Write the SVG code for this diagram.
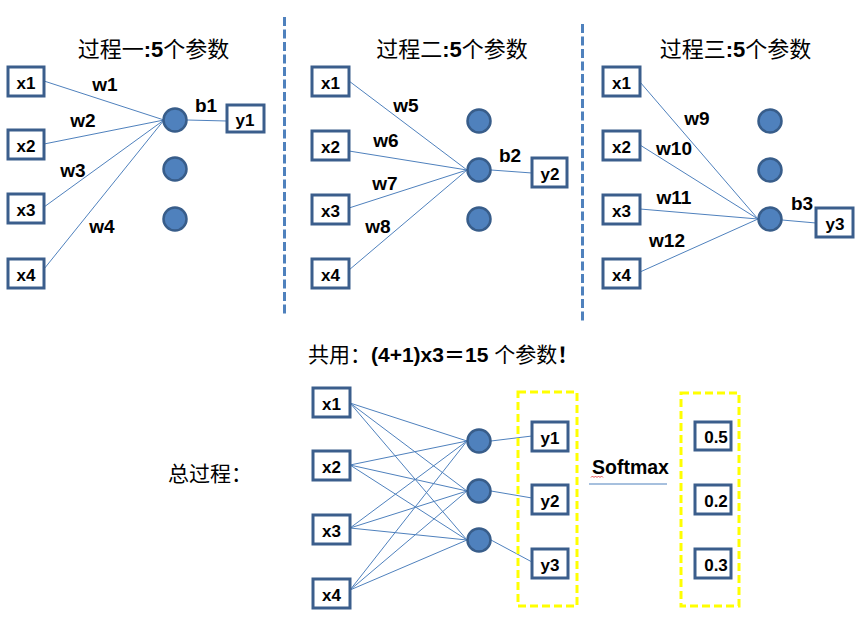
<svg xmlns="http://www.w3.org/2000/svg" width="867" height="622" viewBox="0 0 867 622">
<style>
.box{fill:#fff;stroke:#3B5E8C;stroke-width:3}
.neu{fill:#4F81BD;stroke:#385D8A;stroke-width:2.5}
.bt{font-family:"Liberation Sans","Noto Sans CJK SC",sans-serif;font-weight:bold;font-size:17px;fill:#000;text-anchor:middle}
.wl{font-family:"Liberation Sans","Noto Sans CJK SC",sans-serif;font-weight:bold;font-size:19px;fill:#000;text-anchor:middle}
.ti{font-family:"Liberation Sans","Noto Sans CJK SC",sans-serif;font-size:22px;fill:#000}
.b{font-weight:bold}
.con line{stroke:#4F81BD;stroke-width:1}
.sep{stroke:#4F81BD;stroke-width:3;stroke-dasharray:9 3.5}
.ybox{fill:none;stroke:#FFFF00;stroke-width:3;stroke-dasharray:8 4}
</style>
<rect width="867" height="622" fill="#fff"/>
<line class="sep" x1="284.5" y1="17" x2="284.5" y2="315"/>
<line class="sep" x1="582.5" y1="24" x2="582.5" y2="322"/>
<g id="titles">
<text class="ti" x="153.5" y="57" text-anchor="middle">过程一<tspan class="b">:5</tspan>个参数</text>
<text class="ti" x="452" y="57" text-anchor="middle">过程二<tspan class="b">:5</tspan>个参数</text>
<text class="ti" x="735.5" y="57" text-anchor="middle">过程三<tspan class="b">:5</tspan>个参数</text>
<text class="ti" x="308" y="362" style="font-size:21px">共用：<tspan class="b">(4+1)x3＝15</tspan> 个参数<tspan class="b">！</tspan></text>
<text class="ti" x="168" y="481" style="font-size:21px">总过程：</text>
</g>
<g class="con" id="connectors">
<line x1="44" y1="81" x2="164" y2="120"/>
<line x1="44" y1="144" x2="164" y2="120"/>
<line x1="44" y1="207" x2="164" y2="120"/>
<line x1="44" y1="269" x2="164" y2="120"/>
<line x1="187" y1="120" x2="227" y2="121"/>
<line x1="349" y1="81" x2="467" y2="170"/>
<line x1="349" y1="151" x2="467" y2="170"/>
<line x1="349" y1="208" x2="467" y2="170"/>
<line x1="349" y1="270" x2="467" y2="170"/>
<line x1="491" y1="170" x2="532" y2="173"/>
<line x1="640" y1="82" x2="758" y2="219"/>
<line x1="640" y1="145" x2="758" y2="219"/>
<line x1="640" y1="209" x2="758" y2="219"/>
<line x1="640" y1="272" x2="758" y2="219"/>
<line x1="782" y1="220" x2="816" y2="223"/>
<line x1="350" y1="403" x2="467" y2="441"/>
<line x1="350" y1="403" x2="467" y2="491"/>
<line x1="350" y1="403" x2="467" y2="540"/>
<line x1="350" y1="465" x2="467" y2="441"/>
<line x1="350" y1="465" x2="467" y2="491"/>
<line x1="350" y1="465" x2="467" y2="540"/>
<line x1="350" y1="528" x2="467" y2="441"/>
<line x1="350" y1="528" x2="467" y2="491"/>
<line x1="350" y1="528" x2="467" y2="540"/>
<line x1="350" y1="590" x2="467" y2="441"/>
<line x1="350" y1="590" x2="467" y2="491"/>
<line x1="350" y1="590" x2="467" y2="540"/>
<line x1="491" y1="441" x2="532" y2="436"/>
<line x1="491" y1="491" x2="532" y2="498"/>
<line x1="491" y1="540" x2="532" y2="562"/>
<line x1="589" y1="484" x2="667" y2="484"/>
</g>
<g id="labels">
<text class="wl" x="105" y="91">w1</text>
<text class="wl" x="83" y="127">w2</text>
<text class="wl" x="73" y="177">w3</text>
<text class="wl" x="102" y="233">w4</text>
<text class="wl" x="206" y="112">b1</text>
<text class="wl" x="406" y="112">w5</text>
<text class="wl" x="386" y="147">w6</text>
<text class="wl" x="385" y="190">w7</text>
<text class="wl" x="378" y="233">w8</text>
<text class="wl" x="510" y="162">b2</text>
<text class="wl" x="697" y="125">w9</text>
<text class="wl" x="674" y="155">w10</text>
<text class="wl" x="674" y="204">w11</text>
<text class="wl" x="667" y="247">w12</text>
<text class="wl" x="802" y="210">b3</text>
<text x="592" y="474" style="font-family:'Liberation Sans',sans-serif;font-weight:bold;font-size:19.5px;fill:#000">Softmax</text>
<path d="M591,477.5 l1.5,-1.5 l1.5,1.5 l1.5,-1.5 l1.5,1.5 l1.5,-1.5 l1.5,1.5 l1.5,-1.5 l1.5,1.5" fill="none" stroke="#E02020" stroke-width="0.8"/>
</g>
<g id="p1-nodes">
<g id="p1-x1"><rect class="box" x="8" y="67" width="36" height="29"/><text class="bt" x="26" y="89">x1</text></g>
<g id="p1-x2"><rect class="box" x="8" y="130" width="36" height="29"/><text class="bt" x="26" y="152">x2</text></g>
<g id="p1-x3"><rect class="box" x="8" y="194" width="36" height="29"/><text class="bt" x="26" y="216">x3</text></g>
<g id="p1-x4"><rect class="box" x="8" y="259" width="36" height="29"/><text class="bt" x="26" y="281">x4</text></g>
<circle id="p1-n1" class="neu" cx="175" cy="120" r="11.5"/>
<circle id="p1-n2" class="neu" cx="175" cy="169" r="11.5"/>
<circle id="p1-n3" class="neu" cx="175" cy="219" r="11.5"/>
<g id="p1-y1"><rect class="box" x="227" y="105" width="37" height="27"/><text class="bt" x="245" y="126">y1</text></g>
</g>
<g id="p2-nodes">
<g id="p2-x1"><rect class="box" x="312" y="67" width="37" height="29"/><text class="bt" x="330.5" y="89">x1</text></g>
<g id="p2-x2"><rect class="box" x="312" y="131" width="37" height="29"/><text class="bt" x="330.5" y="153">x2</text></g>
<g id="p2-x3"><rect class="box" x="312" y="195" width="37" height="29"/><text class="bt" x="330.5" y="217">x3</text></g>
<g id="p2-x4"><rect class="box" x="312" y="259" width="37" height="29"/><text class="bt" x="330.5" y="281">x4</text></g>
<circle id="p2-n1" class="neu" cx="479" cy="121" r="11.5"/>
<circle id="p2-n2" class="neu" cx="479" cy="170" r="11.5"/>
<circle id="p2-n3" class="neu" cx="479" cy="219" r="11.5"/>
<g id="p2-y2"><rect class="box" x="532" y="158" width="35" height="29"/><text class="bt" x="550" y="180">y2</text></g>
</g>
<g id="p3-nodes">
<g id="p3-x1"><rect class="box" x="603" y="67" width="37" height="29"/><text class="bt" x="621.5" y="89">x1</text></g>
<g id="p3-x2"><rect class="box" x="603" y="131" width="37" height="29"/><text class="bt" x="621.5" y="153">x2</text></g>
<g id="p3-x3"><rect class="box" x="603" y="195" width="37" height="29"/><text class="bt" x="621.5" y="217">x3</text></g>
<g id="p3-x4"><rect class="box" x="603" y="259" width="37" height="29"/><text class="bt" x="621.5" y="281">x4</text></g>
<circle id="p3-n1" class="neu" cx="770" cy="121" r="11.5"/>
<circle id="p3-n2" class="neu" cx="770" cy="170" r="11.5"/>
<circle id="p3-n3" class="neu" cx="770" cy="219" r="11.5"/>
<g id="p3-y3"><rect class="box" x="816" y="208" width="37" height="29"/><text class="bt" x="835" y="230">y3</text></g>
</g>
<g id="all-nodes">
<g id="a-x1"><rect class="box" x="313" y="388" width="37" height="29"/><text class="bt" x="331.5" y="410">x1</text></g>
<g id="a-x2"><rect class="box" x="313" y="451" width="37" height="29"/><text class="bt" x="331.5" y="473">x2</text></g>
<g id="a-x3"><rect class="box" x="313" y="515" width="37" height="29"/><text class="bt" x="331.5" y="537">x3</text></g>
<g id="a-x4"><rect class="box" x="313" y="579" width="37" height="29"/><text class="bt" x="331.5" y="601">x4</text></g>
<circle id="a-n1" class="neu" cx="479" cy="441" r="11.5"/>
<circle id="a-n2" class="neu" cx="479" cy="491" r="11.5"/>
<circle id="a-n3" class="neu" cx="479" cy="540" r="11.5"/>
<rect id="out-group" class="ybox" x="518" y="392" width="59" height="214"/>
<g id="a-y1"><rect class="box" x="532" y="422" width="36" height="29"/><text class="bt" x="550" y="444">y1</text></g>
<g id="a-y2"><rect class="box" x="532" y="485" width="36" height="29"/><text class="bt" x="550" y="507">y2</text></g>
<g id="a-y3"><rect class="box" x="532" y="549" width="36" height="29"/><text class="bt" x="550" y="571">y3</text></g>
<rect id="prob-group" class="ybox" x="681" y="393" width="58" height="213"/>
<g id="p-1"><rect class="box" x="695" y="422" width="36" height="28"/><text class="bt" x="716" y="443">0.5</text></g>
<g id="p-2"><rect class="box" x="695" y="485" width="36" height="29"/><text class="bt" x="716" y="507">0.2</text></g>
<g id="p-3"><rect class="box" x="695" y="549" width="36" height="29"/><text class="bt" x="716" y="571">0.3</text></g>
</g>
</svg>
